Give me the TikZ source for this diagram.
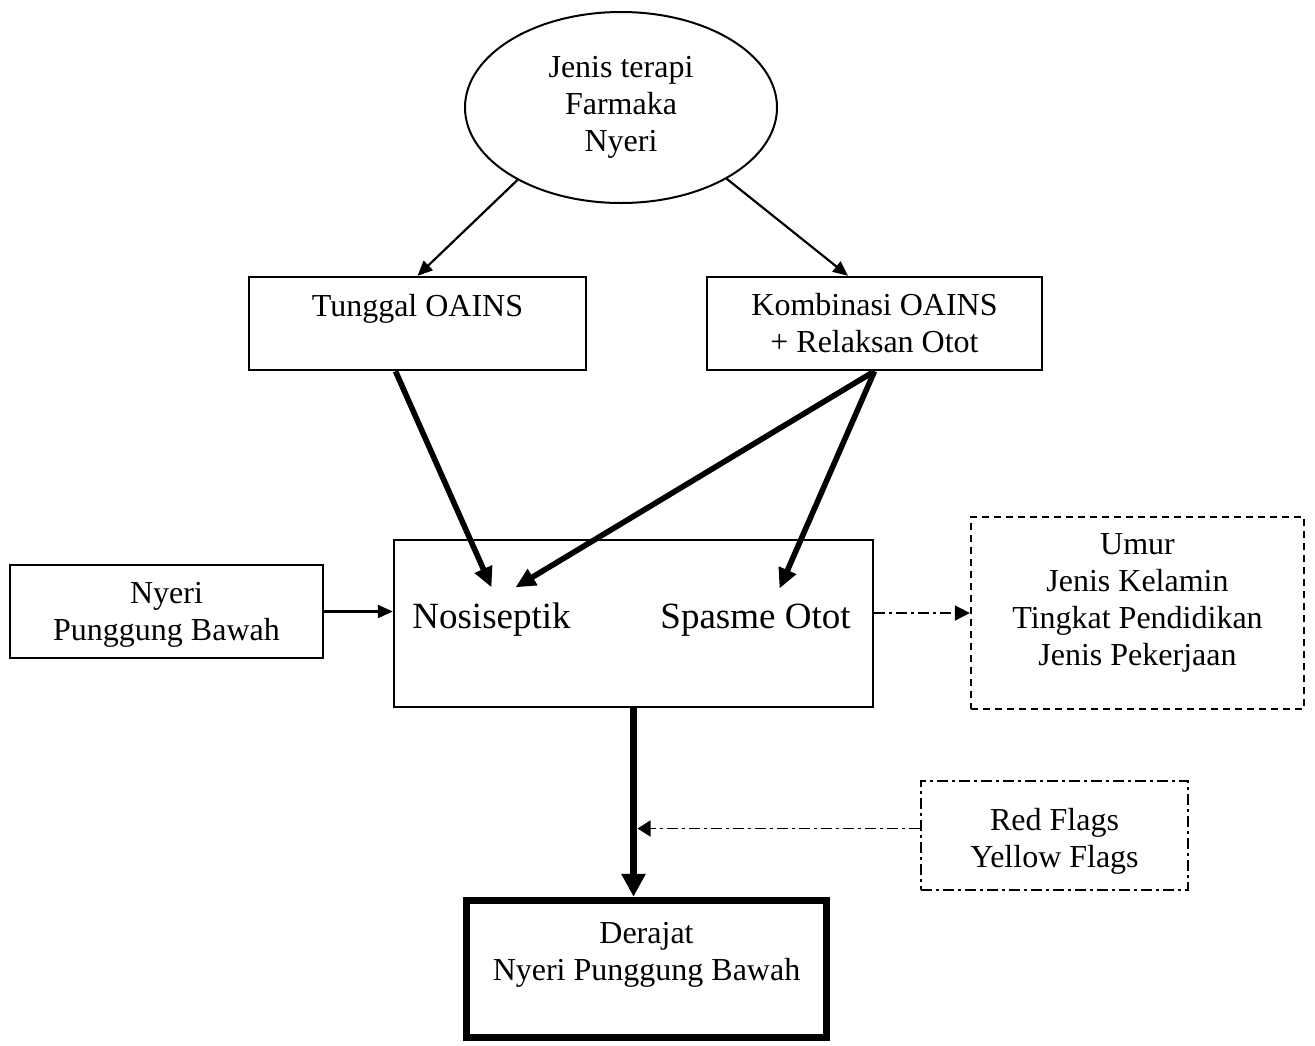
\documentclass[tikz,border=0pt]{standalone}
\usepackage{fontspec}
\setmainfont{Liberation Serif}
\usetikzlibrary{arrows.meta,shapes.geometric}
\tikzset{
    box/.style={draw, line width=1.2pt, align=center, inner sep=0pt,
        font=\fontsize{16}{18.5}\selectfont},
    big text/.style={font=\fontsize{18.5}{22}\selectfont, inner sep=4pt, outer sep=3.5pt},
    thin arrow/.style={line width=1.1pt, -{Triangle[length=7.5pt,width=6.5pt]}},
    thick arrow/.style={line width=2.8pt, -{Triangle[length=10pt,width=9pt]}},
    dash dot line/.style={line width=0.8pt, dash pattern=on 5.5pt off 2pt on 1.5pt off 2pt}
}
\begin{document}
\begin{tikzpicture}[x=0.5pt, y=-0.5pt]
        \useasboundingbox (0,0) rectangle (1315,1045);
        % boxes
        \node[box, ellipse, line width=1pt, minimum width=156pt, minimum height=95.5pt] (terapi) at (621,107.5) {Jenis terapi\\Farmaka\\Nyeri};
        \node[box, minimum width=168.5pt, minimum height=46.5pt, text height=12pt, text depth=19.5pt] (tunggal) at (417.5,323.5) {Tunggal OAINS};
        \node[box, minimum width=167.5pt, minimum height=46.5pt, text height=30pt, text depth=1.5pt] (kombinasi) at (874.5,323.5) {Kombinasi OAINS\\+ Relaksan Otot};
        \node[box, minimum width=239.5pt, minimum height=83.5pt] (tengah) at (633.5,623.5) {};
        \node[big text, anchor=base] (nosiseptik) at (491.5,628) {Nosiseptik};
        \node[big text, anchor=base] (spasme) at (755.5,628) {Spasme Otot};
        \node[box, minimum width=156.5pt, minimum height=46.5pt, text height=30pt, text depth=1.5pt] (nyeri) at (166.5,611.5) {Nyeri\\Punggung Bawah};
        \node[box, dashed, line width=1.1pt, dash pattern=on 3.5pt off 2.5pt, minimum width=166.5pt, minimum height=96pt, text height=66.4pt, text depth=14.4pt] (faktor) at (1137.5,613) {Umur\\Jenis Kelamin\\Tingkat Pendidikan\\Jenis Pekerjaan};
        \node[box, dash dot line, minimum width=133.5pt, minimum height=54.5pt, text height=31.5pt, text depth=0pt] (flags) at (1054.5,835.5) {Red Flags\\Yellow Flags};
        \node[box, line width=3.5pt, minimum width=180pt, minimum height=68.75pt, text height=29.4pt, text depth=18.4pt] (derajat) at (646.5,969) {Derajat\\Nyeri Punggung Bawah};
        % arrows
        \draw[thin arrow] (terapi.215) -- (tunggal.north);
        \draw[thin arrow] (terapi.-34) -- (kombinasi.119);
        \draw[thick arrow] ([xshift=-11pt]tunggal.south) -- (nosiseptik.north);
        \draw[thick arrow] (kombinasi.south) -- ([xshift=12pt]nosiseptik.north);
        \draw[thick arrow] (kombinasi.south) -- ([xshift=12pt]spasme.north);
        \draw[thin arrow] (nyeri.east) -- (nyeri.east -| tengah.west);
        \draw[dash dot line, -{Triangle[length=7.5pt,width=7.5pt]}] (faktor.west -| tengah.east) -- (faktor.west);
        \draw[line width=3.5pt, -{Triangle[length=11.5pt,width=11.5pt]}] (tengah.south) -- (tengah.south |- derajat.north);
        \coordinate (flags kiri) at ([yshift=3.5pt]flags.west);
        \coordinate (sumbu) at ([xshift=2pt]tengah.south);
        \draw[dash dot line, -{Triangle[length=6.5pt,width=8pt]}] (flags kiri) -- (flags kiri -| sumbu);
\end{tikzpicture}
\end{document}
